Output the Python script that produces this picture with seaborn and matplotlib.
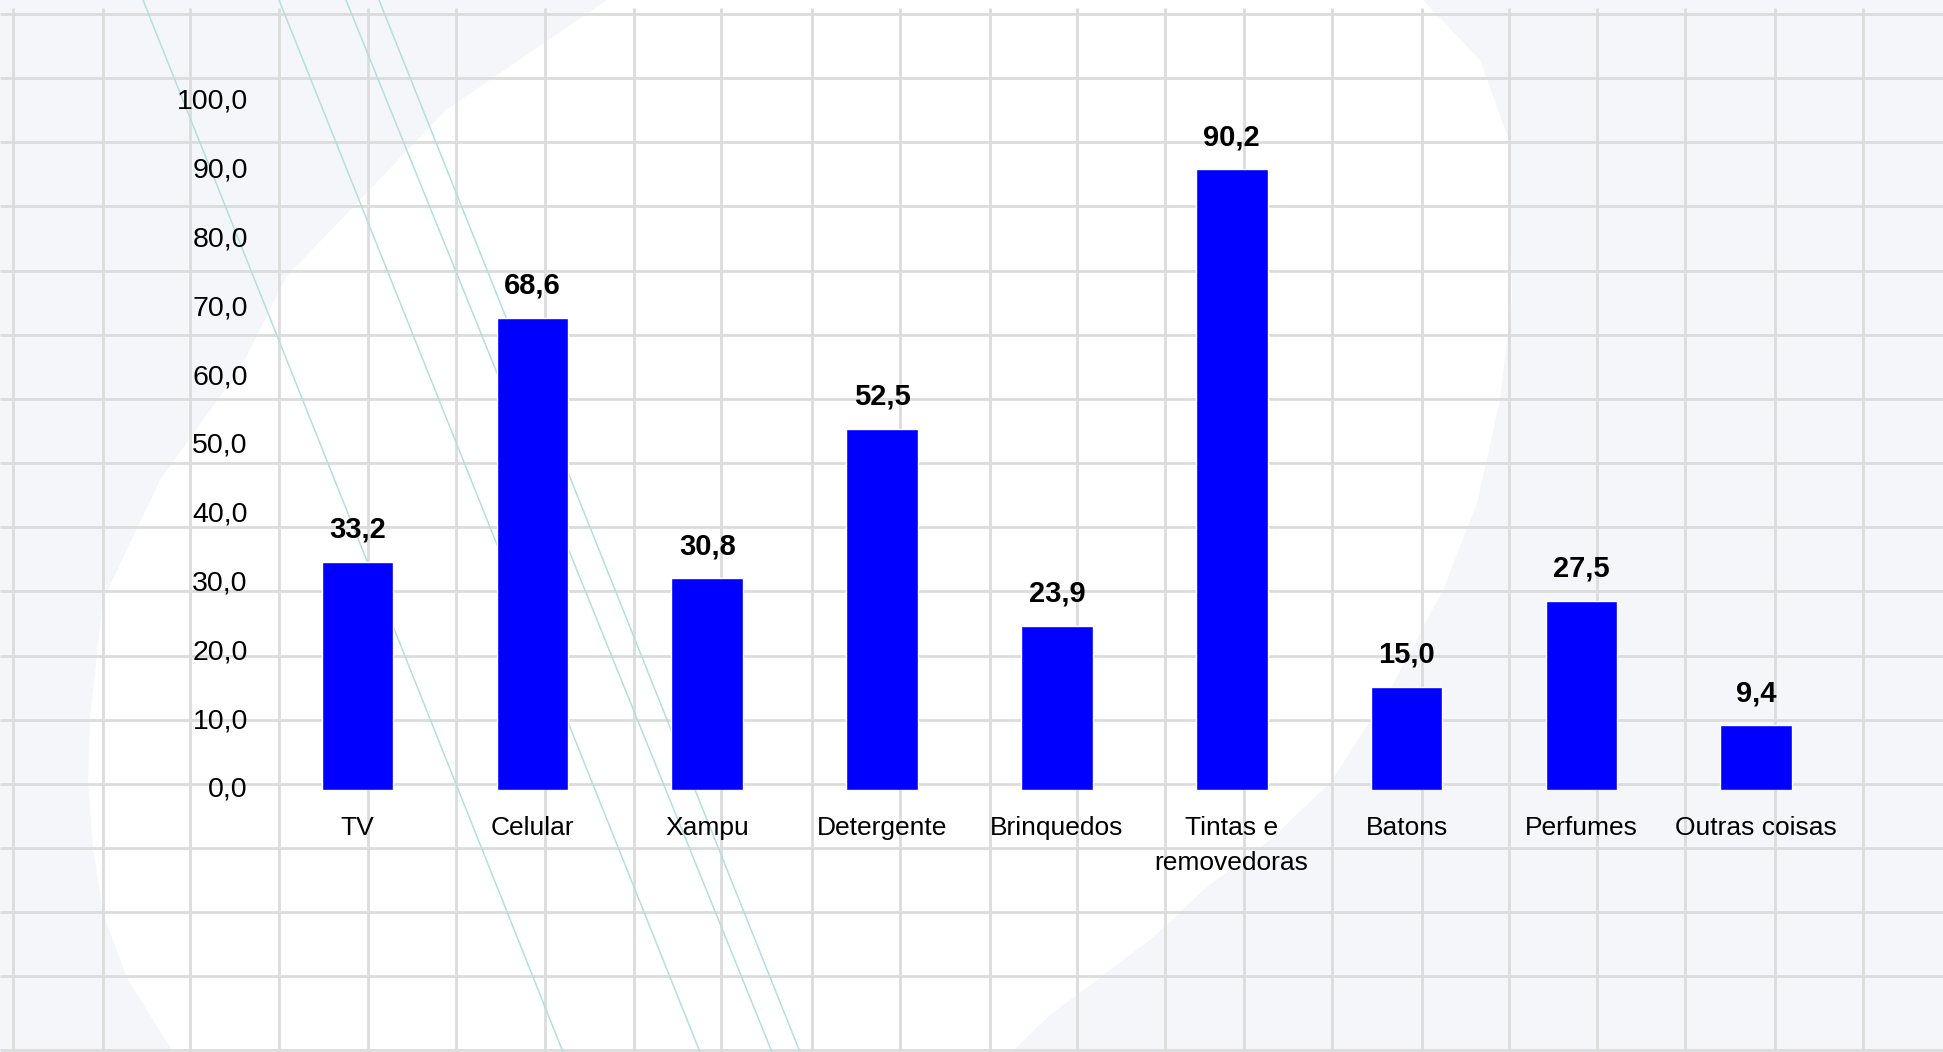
import numpy as np
import pandas as pd
import matplotlib
matplotlib.use("Agg")
import matplotlib.pyplot as plt
from matplotlib.patches import Polygon
import seaborn as sns

# ---- data ----
categories = ["TV", "Celular", "Xampu", "Detergente", "Brinquedos",
              "Tintas e\nremovedoras", "Batons", "Perfumes", "Outras coisas"]
values = [33.2, 68.6, 30.8, 52.5, 23.9, 90.2, 15.0, 27.5, 9.4]
y_ticks = [0, 10, 20, 30, 40, 50, 60, 70, 80, 90, 100]

sns.set_style("white")
plt.rcParams["font.family"] = ["Liberation Sans", "DejaVu Sans"]

W, H = 1943, 1052
fig = plt.figure(figsize=(W / 100, H / 100), dpi=100)
fig.patch.set_facecolor("#f5f6f9")

# ---- decorative slide background (pixel coordinates) ----
bg = fig.add_axes([0, 0, 1, 1], zorder=0)
bg.set_xlim(0, W)
bg.set_ylim(H, 0)
bg.axis("off")
bg.patch.set_alpha(0)

blob = [(607, 0), (1423, 0), (1480, 60), (1509, 140), (1512, 300), (1500, 400),
        (1478, 500), (1444, 588), (1390, 690), (1331, 782), (1270, 840),
        (1207, 887), (1150, 940), (1090, 985), (1050, 1015), (1012, 1052),
        (173, 1052), (127, 978), (103, 913), (93, 848), (88, 783), (90, 718),
        (103, 600), (160, 480), (241, 367), (286, 277), (446, 110)]
bg.add_patch(Polygon(blob, closed=True, facecolor="white", edgecolor="none", zorder=1))

vx = [12.7, 103, 190, 279, 368, 456, 545, 634, 721, 812, 900, 990, 1077,
      1165, 1244, 1332, 1422, 1509, 1597, 1685, 1775, 1863]
hy = [14 + 64.15 * k for k in range(16)] + [1050]
for x in vx:
    bg.plot([x, x], [8, H], color="#dcdcdc", lw=2.0, zorder=2, solid_capstyle="butt")
for y in hy:
    bg.plot([0, W], [y, y], color="#dcdcdc", lw=2.0, zorder=2, solid_capstyle="butt")

for x0, x1 in [(143, 563), (279, 700), (346, 772), (379, 800)]:
    bg.plot([x0, x1], [0, H], color="#b4e0da", lw=1.1, zorder=3)

# ---- chart ----
ax = fig.add_axes([270.1 / W, (H - 790) / H, 1573.5 / W, 688 / H], zorder=2)
ax.patch.set_alpha(0)

df = pd.DataFrame({"cat": categories, "val": values})
sns.barplot(data=df, x="cat", y="val", color="#0000FF", saturation=1,
            width=0.41, ax=ax)

ax.set_xlim(-0.5, len(categories) - 0.5)
ax.set_ylim(0, 100)
ax.set_yticks(y_ticks)
ax.set_yticklabels([f"{v:.1f}".replace(".", ",") for v in y_ticks],
                   fontsize=20.5, va="center")
ax.set_xticks(range(len(categories)))
ax.set_xticklabels(categories, fontsize=19, linespacing=1.55)
ax.set_xlabel("")
ax.set_ylabel("")
ax.tick_params(axis="both", length=0, colors="black")
ax.tick_params(axis="y", pad=16)
ax.tick_params(axis="x", pad=19)
for s in ax.spines.values():
    s.set_visible(False)
ax.grid(False)

for cont in ax.containers:
    ax.bar_label(cont, labels=[f"{v:.1f}".replace(".", ",") for v in values],
                 padding=13, fontsize=21, fontweight="bold", color="black")

fig.savefig("out.png", dpi=100, facecolor=fig.get_facecolor())
